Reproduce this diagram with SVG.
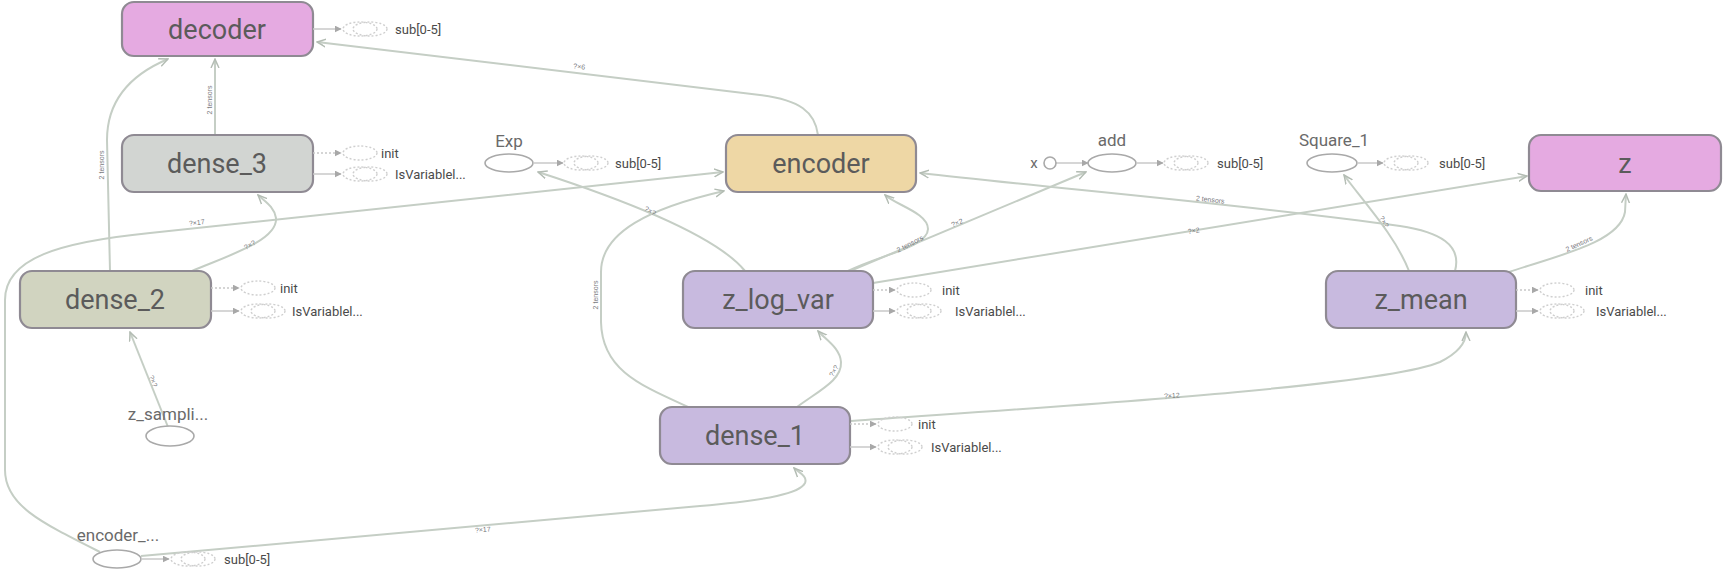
<svg xmlns="http://www.w3.org/2000/svg" width="1725" height="575" viewBox="0 0 1725 575">
<defs>
<style>
.node rect{stroke:#8f8a93;stroke-width:2.2}
.nl{font-family:Roboto,"Liberation Sans",sans-serif;font-size:27px;fill:#5b5b5b;text-anchor:middle}
.ol{font-family:Roboto,"Liberation Sans",sans-serif;font-size:17px;fill:#6a6a6a;text-anchor:middle}
.op{fill:#fff;stroke:#a9a9a9;stroke-width:1.6}
.al{font-family:Roboto,"Liberation Sans",sans-serif;font-size:13px;fill:#4a4a4a}
.ax{stroke:#c8c8c8;stroke-width:1.5;fill:none;stroke-dasharray:2 2}
.axs{stroke:#c8c8c8;stroke-width:1.5;fill:none}
.aux{fill:none;stroke:#cfcfcf;stroke-width:1.4;stroke-dasharray:2 2}
.e{fill:none;stroke:#c5cec5;stroke-width:2;marker-end:url(#arr)}
.el{font-family:"Liberation Sans",sans-serif;font-size:7px;fill:#7a7a80;text-anchor:middle}
</style>
<marker id="arr" viewBox="0 0 10 10" refX="9" refY="5" markerWidth="5" markerHeight="5" orient="auto">
<path d="M0,1 L9,5 L0,9 M3,2.5 L9,5 L3,7.5" fill="none" stroke="#b3bcb3" stroke-width="1.4"/>
</marker>
<marker id="tri" viewBox="0 0 10 10" refX="9" refY="5" markerWidth="7" markerHeight="7" markerUnits="userSpaceOnUse" orient="auto">
<path d="M0,0 L10,5 L0,10 z" fill="#a8a8a8"/>
</marker>
</defs>

<g id="connectors">
<path class="e" d="M818,135 C815,112 800,100 760,95 L317,42"/>
<path class="e" d="M215,135 L215,59"/>
<path class="e" d="M110,271 L107,140 C107,100 130,75 168,59"/>
<path class="e" d="M192,271 C230,255 278,240 276,218 C274,206 264,201 258,195"/>
<path class="e" d="M168,427 L130,332"/>
<path class="e" d="M100,552 C40,522 5,505 5,470 L5,300 C5,258 60,242 150,233 L723,172"/>
<path class="e" d="M141,556 L700,506 C770,500 800,493 805,483 C808,476 798,472 794,468"/>
<path class="e" d="M688,407 C640,385 602,370 601,322 L601,272 C601,232 650,208 724,191"/>
<path class="e" d="M797,407 C820,390 842,380 841,362 C840,348 826,340 818,331"/>
<path class="e" d="M851,421 C1000,410 1380,388 1440,362 C1460,352 1466,342 1466,332"/>
<path class="e" d="M848,271 C880,255 928,247 928,229 C928,213 896,205 885,195"/>
<path class="e" d="M850,271 L1086,172"/>
<path class="e" d="M745,271 C720,240 640,205 538,172"/>
<path class="e" d="M873,283 L1527,176"/>
<path class="e" d="M1455,271 C1462,245 1440,232 1400,226 C1250,205 1050,188 920,173"/>
<path class="e" d="M1409,271 C1395,235 1362,200 1344,175"/>
<path class="e" d="M1509,272 C1560,255 1620,242 1625,212 L1626,194"/>
<path class="axs" d="M1056,163 L1088,163" marker-end="url(#tri)"/>
<g>
<text class="el" transform="translate(579,69) rotate(6.4)">?×6</text>
<text class="el" transform="translate(212,100) rotate(-90)">2 tensors</text>
<text class="el" transform="translate(104,165) rotate(-90)">2 tensors</text>
<text class="el" transform="translate(251,247) rotate(-30)">?×?</text>
<text class="el" transform="translate(151,382) rotate(68)">?×?</text>
<text class="el" transform="translate(197,225) rotate(-6)">?×17</text>
<text class="el" transform="translate(483,532) rotate(-5)">?×17</text>
<text class="el" transform="translate(598,295) rotate(-90)">2 tensors</text>
<text class="el" transform="translate(836,372) rotate(-60)">?×?</text>
<text class="el" transform="translate(911,246) rotate(-28)">2 tensors</text>
<text class="el" transform="translate(958,225) rotate(-23)">?×2</text>
<text class="el" transform="translate(649,213) rotate(30)">?×?</text>
<text class="el" transform="translate(1194,233) rotate(-9)">?×2</text>
<text class="el" transform="translate(1210,202) rotate(6)">2 tensors</text>
<text class="el" transform="translate(1382,223) rotate(60)">?×?</text>
<text class="el" transform="translate(1580,246) rotate(-25)">2 tensors</text>
<text class="el" transform="translate(1172,398) rotate(-4)">?×12</text>
</g>
</g>

<g id="decoder" class="node">
<rect x="122" y="2" width="191" height="54" rx="12" fill="#e5aae1"/>
<text class="nl" x="217" y="39">decoder</text>
<path class="axs" d="M313,29 L341,29" marker-end="url(#tri)"/>
<ellipse class="aux" cx="360" cy="29" rx="17" ry="7"/><ellipse class="aux" cx="370" cy="29" rx="17" ry="7"/>
<text class="al" x="395" y="34">sub[0-5]</text>
</g>

<g id="dense_3" class="node">
<rect x="122" y="135" width="191" height="57" rx="12" fill="#d2d5d2"/>
<text class="nl" x="217" y="173">dense_3</text>
<path class="ax" d="M313,153 L341,153" marker-end="url(#tri)"/>
<ellipse class="aux" cx="360" cy="153" rx="17" ry="7"/>
<text class="al" x="381" y="158">init</text>
<path class="axs" d="M313,174 L341,174" marker-end="url(#tri)"/>
<ellipse class="aux" cx="360" cy="174" rx="17" ry="7"/><ellipse class="aux" cx="370" cy="174" rx="17" ry="7"/>
<text class="al" x="395" y="179">IsVariablel...</text>
</g>

<g id="dense_2" class="node">
<rect x="20" y="271" width="191" height="57" rx="12" fill="#d1d4c0"/>
<text class="nl" x="115" y="309">dense_2</text>
<path class="ax" d="M211,288 L239,288" marker-end="url(#tri)"/>
<ellipse class="aux" cx="258" cy="288" rx="17" ry="7"/>
<text class="al" x="280" y="293">init</text>
<path class="axs" d="M211,311 L239,311" marker-end="url(#tri)"/>
<ellipse class="aux" cx="258" cy="311" rx="17" ry="7"/><ellipse class="aux" cx="268" cy="311" rx="17" ry="7"/>
<text class="al" x="292" y="316">IsVariablel...</text>
</g>

<g id="encoder" class="node">
<rect x="726" y="135" width="190" height="57" rx="12" fill="#eed7a5"/>
<text class="nl" x="821" y="173">encoder</text>
</g>

<g id="z" class="node">
<rect x="1529" y="135" width="192" height="56" rx="12" fill="#e5aae1"/>
<text class="nl" x="1625" y="173">z</text>
</g>

<g id="z_log_var" class="node">
<rect x="683" y="271" width="190" height="57" rx="12" fill="#c8badf"/>
<text class="nl" x="778" y="309">z_log_var</text>
<path class="ax" d="M873,290 L895,290" marker-end="url(#tri)"/>
<ellipse class="aux" cx="914" cy="290" rx="17" ry="7"/>
<text class="al" x="942" y="295">init</text>
<path class="axs" d="M873,311 L895,311" marker-end="url(#tri)"/>
<ellipse class="aux" cx="914" cy="311" rx="17" ry="7"/><ellipse class="aux" cx="924" cy="311" rx="17" ry="7"/>
<text class="al" x="955" y="316">IsVariablel...</text>
</g>

<g id="z_mean" class="node">
<rect x="1326" y="271" width="190" height="57" rx="12" fill="#c8badf"/>
<text class="nl" x="1421" y="309">z_mean</text>
<path class="ax" d="M1516,290 L1538,290" marker-end="url(#tri)"/>
<ellipse class="aux" cx="1557" cy="290" rx="17" ry="7"/>
<text class="al" x="1585" y="295">init</text>
<path class="axs" d="M1516,311 L1538,311" marker-end="url(#tri)"/>
<ellipse class="aux" cx="1557" cy="311" rx="17" ry="7"/><ellipse class="aux" cx="1567" cy="311" rx="17" ry="7"/>
<text class="al" x="1596" y="316">IsVariablel...</text>
</g>

<g id="dense_1" class="node">
<rect x="660" y="407" width="190" height="57" rx="12" fill="#c8badf"/>
<text class="nl" x="755" y="445">dense_1</text>
<path class="ax" d="M850,424 L876,424" marker-end="url(#tri)"/>
<ellipse class="aux" cx="895" cy="424" rx="17" ry="7"/>
<text class="al" x="918" y="429">init</text>
<path class="axs" d="M850,447 L876,447" marker-end="url(#tri)"/>
<ellipse class="aux" cx="895" cy="447" rx="17" ry="7"/><ellipse class="aux" cx="905" cy="447" rx="17" ry="7"/>
<text class="al" x="931" y="452">IsVariablel...</text>
</g>

<g id="Exp">
<text class="ol" x="509" y="147">Exp</text>
<ellipse class="op" cx="509" cy="163" rx="24" ry="9"/>
<path class="axs" d="M533,163 L563,163" marker-end="url(#tri)"/>
<ellipse class="aux" cx="581" cy="163" rx="17" ry="7"/><ellipse class="aux" cx="591" cy="163" rx="17" ry="7"/>
<text class="al" x="615" y="168">sub[0-5]</text>
</g>

<g id="x">
<text class="ol" x="1034" y="168" style="font-size:15px">x</text>
<circle class="op" cx="1050" cy="163" r="6"/>
</g>

<g id="add">
<text class="ol" x="1112" y="146">add</text>
<ellipse class="op" cx="1112" cy="163" rx="24" ry="9"/>
<path class="axs" d="M1136,163 L1163,163" marker-end="url(#tri)"/>
<ellipse class="aux" cx="1181" cy="163" rx="17" ry="7"/><ellipse class="aux" cx="1191" cy="163" rx="17" ry="7"/>
<text class="al" x="1217" y="168">sub[0-5]</text>
</g>

<g id="Square_1">
<text class="ol" x="1334" y="146">Square_1</text>
<ellipse class="op" cx="1332" cy="163" rx="25" ry="9"/>
<path class="axs" d="M1357,163 L1383,163" marker-end="url(#tri)"/>
<ellipse class="aux" cx="1401" cy="163" rx="17" ry="7"/><ellipse class="aux" cx="1411" cy="163" rx="17" ry="7"/>
<text class="al" x="1439" y="168">sub[0-5]</text>
</g>

<g id="z_sampling">
<text class="ol" x="168" y="420">z_sampli...</text>
<ellipse class="op" cx="170" cy="436" rx="24" ry="10"/>
</g>

<g id="encoder_input">
<text class="ol" x="118" y="541">encoder_...</text>
<ellipse class="op" cx="117" cy="559" rx="24" ry="9"/>
<path class="axs" d="M141,559 L169,559" marker-end="url(#tri)"/>
<ellipse class="aux" cx="188" cy="559" rx="17" ry="7"/><ellipse class="aux" cx="198" cy="559" rx="17" ry="7"/>
<text class="al" x="224" y="564">sub[0-5]</text>
</g>
</svg>
